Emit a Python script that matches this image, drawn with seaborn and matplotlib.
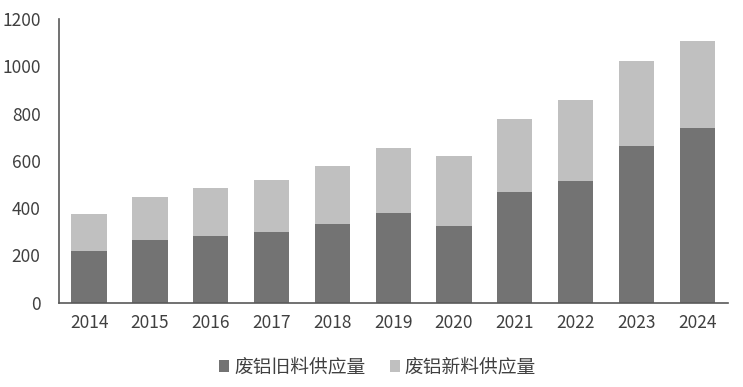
import matplotlib
matplotlib.use("Agg")
import matplotlib.pyplot as plt
import numpy as np
import pandas as pd
import seaborn as sns
from matplotlib.patches import Patch

years = ["2014", "2015", "2016", "2017", "2018", "2019", "2020", "2021", "2022", "2023", "2024"]
old_scrap = [220, 265, 282, 299, 333, 379, 323, 467, 515, 663, 740]
new_scrap = [155, 182, 202, 219, 245, 274, 296, 310, 344, 359, 367]
labels = ["废铝旧料供应量", "废铝新料供应量"]

dark = "#737373"
light = "#c0c0c0"
axis_col = "#595959"
text_col = "#404040"

df = pd.DataFrame({"year": years, "old": old_scrap, "new": new_scrap})
df["total"] = df["old"] + df["new"]

sns.set_style("white")
plt.rcParams["font.family"] = ["Noto Sans CJK SC", "DejaVu Sans"]

fig = plt.figure(figsize=(7.43, 3.87), dpi=100)
ax = fig.add_axes([58.7 / 743, 1 - 302.7 / 387, (727.7 - 58.7) / 743, (302.7 - 19) / 387])

# stacked: total in light, old scrap drawn over it in dark
sns.barplot(data=df, x="year", y="total", color=light, width=0.58, saturation=1,
            linewidth=0, ax=ax)
sns.barplot(data=df, x="year", y="old", color=dark, width=0.58, saturation=1,
            linewidth=0, ax=ax)

ax.set_xlim(-0.5, len(years) - 0.5)
ax.set_ylim(0, 1200)
ax.set_yticks(np.arange(0, 1201, 200))
ax.set_xlabel("")
ax.set_ylabel("")

for s in ["top", "right"]:
    ax.spines[s].set_visible(False)
for s in ["left", "bottom"]:
    ax.spines[s].set_color(axis_col)
    ax.spines[s].set_linewidth(1.2)

ax.set_xticks(np.arange(-0.5, len(years)), minor=True)
ax.tick_params(axis="x", which="major", length=0, pad=8, labelsize=12.5, labelcolor=text_col)
ax.tick_params(axis="x", which="minor", length=5, width=1.2, color=axis_col, direction="out")
ax.tick_params(axis="y", length=5, width=1.2, color=axis_col, direction="out", pad=8,
               labelsize=12.5, labelcolor=text_col)

handles = [Patch(facecolor=dark, edgecolor="none"), Patch(facecolor=light, edgecolor="none")]
fig.legend(handles, labels, loc="center", bbox_to_anchor=(0.508, 1 - 367 / 387), ncol=2,
           frameon=False, fontsize=13.5, handlelength=0.55, handleheight=0.55,
           handletextpad=0.25, columnspacing=1.3, labelcolor=text_col)

fig.savefig("out.png", dpi=100)
